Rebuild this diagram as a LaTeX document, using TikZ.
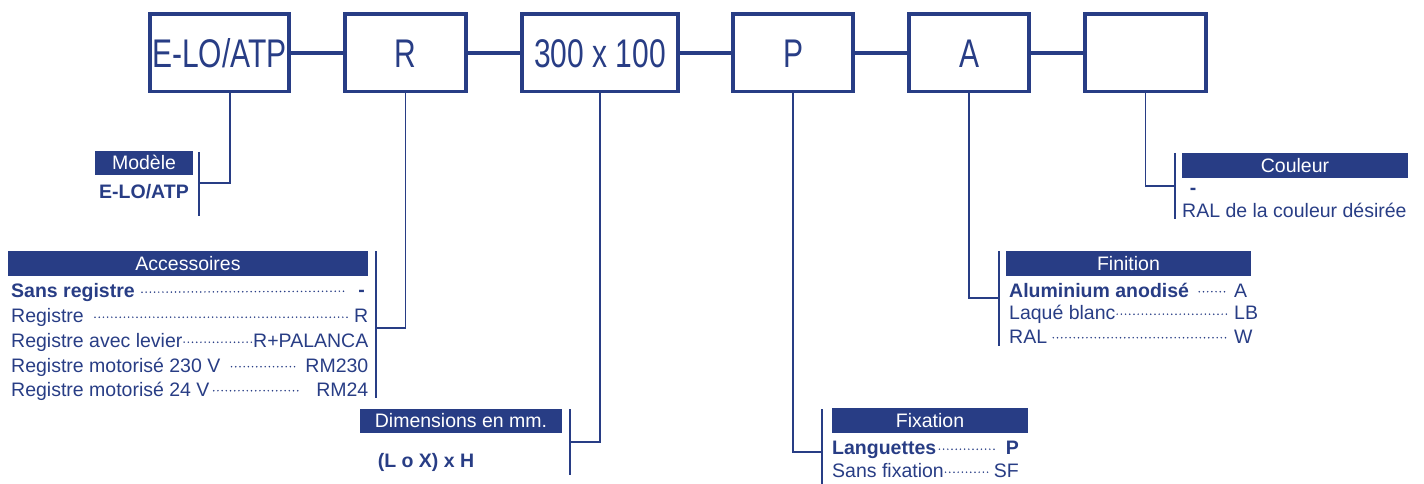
\documentclass[tikz,border=0pt]{standalone}
\usepackage{fontspec}
\setmainfont{Liberation Sans}
\newfontfamily\narrowfont[FakeStretch=0.75]{Liberation Sans}
\definecolor{navy}{RGB}{40,61,133}
\newcommand\leadrow[4]{\draw[leader] ([xshift=#3pt,yshift=-1.2pt]#1.east) -- ([xshift=-#4pt,yshift=-1.2pt]#2.west);}
\begin{document}
\begin{tikzpicture}[x=1pt,y=-1pt,
  every node/.style={text=navy},
  box/.style={draw=navy, line width=3.6pt, minimum height=77.4pt, inner sep=0pt,
    font=\narrowfont\fontsize{40}{40}\selectfont, text height=28.6pt, text depth=0pt},
  link/.style={draw=navy, line width=3.6pt},
  head/.style={fill=navy, text=white, inner sep=0pt, minimum height=24.5pt,
    font=\fontsize{19.5}{19.5}\selectfont, text height=13.96pt, text depth=0pt},
  item/.style={inner sep=0pt, font=\fontsize{19.5}{19.5}\selectfont, text height=13.96pt, text depth=0pt},
  bitem/.style={item, font=\bfseries\fontsize{19.5}{19.5}\selectfont},
  brk/.style={draw=navy, line width=2pt},
  drop/.style={draw=navy, line width=1.8pt},
  leader/.style={draw=navy, line width=1.7pt, line cap=round, dash pattern=on 0pt off 4.2pt},
]
\useasboundingbox (0,0) rectangle (1424,484);

% top row
\node[box, minimum width=139.4pt] (b1) at (219.5,52.9) {E-LO/ATP};
\node[box, minimum width=121.4pt] (b2) at (405.5,52.9) {R};
\node[box, minimum width=156.4pt] (b3) at (600,52.9) {300 x 100};
\node[box, minimum width=120.4pt] (b4) at (793,52.9) {P};
\node[box, minimum width=120.4pt] (b5) at (969,52.9) {A};
\node[box, minimum width=121.4pt] (b6) at (1145.5,52.9) {};
\draw[link] (b1) -- (b2);
\draw[link] (b2) -- (b3);
\draw[link] (b3) -- (b4);
\draw[link] (b4) -- (b5);
\draw[link] (b5) -- (b6);

% Modele
\node[head, minimum width=98pt] (h1) at (144,163) {Modèle};
\node[bitem] (i1) at (144,192) {E-LO/ATP};
\coordinate (k1t) at (199,152); \coordinate (k1b) at (199,216); \coordinate (j1) at (199,183);
\draw[brk] (k1t) -- (k1b);
\draw[drop] ([xshift=10.5pt]b1.south) |- (j1);

% Accessoires
\node[head, minimum width=360pt] (h2) at (188,263.5) {Accessoires};
\node[bitem, anchor=west] (a1) at (11,291) {Sans registre};
\node[bitem, anchor=east] (c1) at (365,290) {-};
\node[item, anchor=west] (a2) at (11,316) {Registre};
\node[item, anchor=east] (c2) at (368.5,316) {R};
\node[item, anchor=west] (a3) at (11,341) {Registre avec levier};
\node[item, anchor=east] (c3) at (368.5,341) {R+PALANCA};
\node[item, anchor=west] (a4) at (11,365.5) {Registre motorisé 230 V};
\node[item, anchor=east] (c4) at (368.5,365.5) {RM230};
\node[item, anchor=west] (a5) at (11,389.5) {Registre motorisé 24 V};
\node[item, anchor=east] (c5) at (368.5,389.5) {RM24};
\leadrow{a1}{c1}{7}{12}
\leadrow{a2}{c2}{11}{7}
\leadrow{a3}{c3}{1.5}{1.5}
\leadrow{a4}{c4}{11}{8}
\leadrow{a5}{c5}{4}{17}
\coordinate (k2t) at (376,251); \coordinate (k2b) at (376,398); \coordinate (j2) at (376,328);
\draw[brk] (k2t) -- (k2b);
\draw[drop] (b2.south) |- (j2);

% Dimensions
\node[head, minimum width=202pt] (h3) at (461,421) {Dimensions en mm.};
\node[bitem] (i3) at (426,461) {(L o X) x H};
\coordinate (k3t) at (570,409); \coordinate (k3b) at (570,475); \coordinate (j3) at (570,442);
\draw[brk] (k3t) -- (k3b);
\draw[drop] (b3.south) |- (j3);

% Fixation
\node[head, minimum width=196pt] (h4) at (930,420.5) {Fixation};
\node[bitem, anchor=west] (f1) at (832,448) {Languettes};
\node[bitem, anchor=east] (g1) at (1019,448) {P};
\node[item, anchor=west] (f2) at (832,471) {Sans fixation};
\node[item, anchor=east] (g2) at (1019,471) {SF};
\leadrow{f1}{g1}{3}{9}
\leadrow{f2}{g2}{1.5}{6}
\coordinate (k4t) at (822,409); \coordinate (k4b) at (822,484); \coordinate (j4) at (822,452);
\draw[brk] (k4t) -- (k4b);
\draw[drop] (b4.south) |- (j4);

% Finition
\node[head, minimum width=245pt] (h5) at (1128.5,263.5) {Finition};
\node[bitem, anchor=west] (n1) at (1009,290.5) {Aluminium anodisé};
\node[item, anchor=west] (m1) at (1234,290.5) {A};
\node[item, anchor=west] (n2) at (1009,313) {Laqué blanc};
\node[item, anchor=west] (m2) at (1234,313) {LB};
\node[item, anchor=west] (n3) at (1009,336.5) {RAL};
\node[item, anchor=west] (m3) at (1234,336.5) {W};
\leadrow{n1}{m1}{10}{6}
\leadrow{n2}{m2}{1.5}{6}
\leadrow{n3}{m3}{6}{6}
\coordinate (k5t) at (999,251); \coordinate (k5b) at (999,346); \coordinate (j5) at (999,298);
\draw[brk] (k5t) -- (k5b);
\draw[drop] (b5.south) |- (j5);

% Couleur
\node[head, minimum width=226pt] (h6) at (1295,165.5) {Couleur};
\node[bitem] (u1) at (1193,188) {-};
\node[item, anchor=west] (u2) at (1182,211) {RAL de la couleur désirée};
\coordinate (k6t) at (1175,153); \coordinate (k6b) at (1175,219); \coordinate (j6) at (1175,186);
\draw[brk] (k6t) -- (k6b);
\draw[drop] (b6.south) |- (j6);
\end{tikzpicture}
\end{document}
